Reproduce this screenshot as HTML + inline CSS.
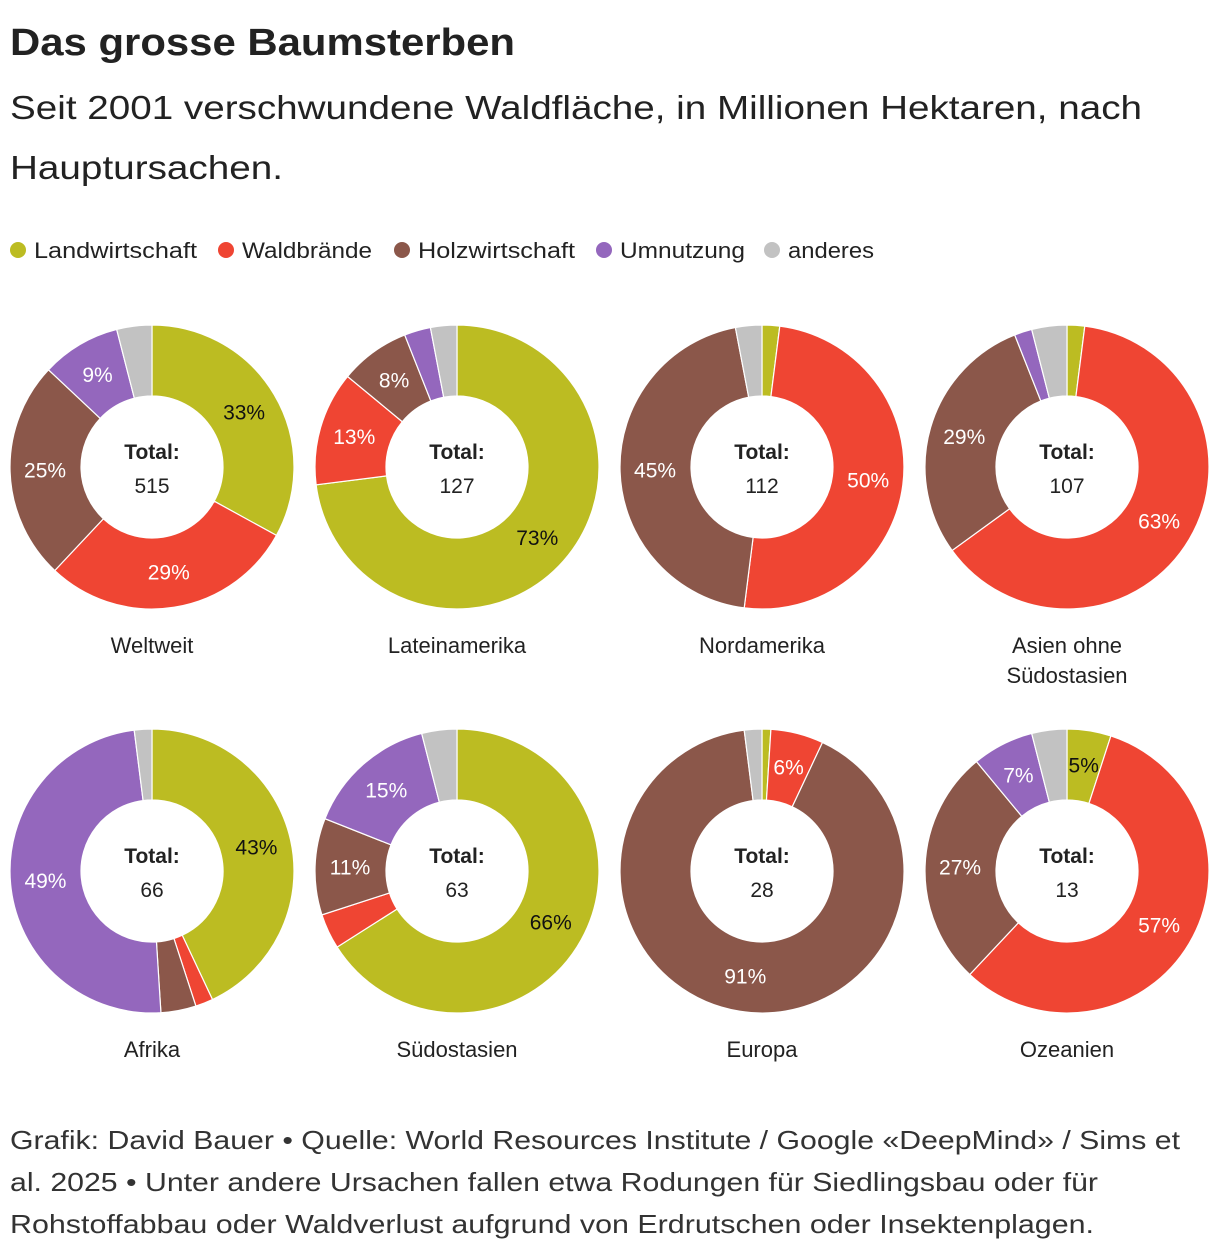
<!DOCTYPE html>
<html><head><meta charset="utf-8">
<style>
body{margin:0;background:#fff;font-family:"Liberation Sans",sans-serif;color:#222;}
svg text{font-family:"Liberation Sans",sans-serif;}
</style></head>
<body>
<svg id="c" width="1220" height="1254" xmlns="http://www.w3.org/2000/svg">
<text x="10" y="55" font-size="38" font-weight="bold" fill="#222" textLength="505" lengthAdjust="spacingAndGlyphs">Das grosse Baumsterben</text>
<text x="10" y="119" font-size="33" fill="#222" textLength="1132" lengthAdjust="spacingAndGlyphs">Seit 2001 verschwundene Waldfläche, in Millionen Hektaren, nach</text>
<text x="10" y="179" font-size="33" fill="#222" textLength="273" lengthAdjust="spacingAndGlyphs">Hauptursachen.</text>
<g id="legend"></g>
<g id="donuts"></g>
<g fill="#333" font-size="26">
<text x="10" y="1149" textLength="1170" lengthAdjust="spacingAndGlyphs">Grafik: David Bauer • Quelle: World Resources Institute / Google «DeepMind» / Sims et</text>
<text x="10" y="1191" textLength="1088" lengthAdjust="spacingAndGlyphs">al. 2025 • Unter andere Ursachen fallen etwa Rodungen für Siedlingsbau oder für</text>
<text x="10" y="1233" textLength="1084" lengthAdjust="spacingAndGlyphs">Rohstoffabbau oder Waldverlust aufgrund von Erdrutschen oder Insektenplagen.</text>
</g>
</svg>
<script>
const categories=["Landwirtschaft","Waldbrände","Holzwirtschaft","Umnutzung","anderes"];
const colors=["#bcbc22","#ef4533","#8b574a","#9467bd","#c2c2c2"];
const regions=["Weltweit","Lateinamerika","Nordamerika","Asien ohne|Südostasien","Afrika","Südostasien","Europa","Ozeanien"];
const totals=[515,127,112,107,66,63,28,13];
const landwirtschaft=[33,73,2,2,43,66,1,5];
const waldbraende=[29,13,50,63,2,4,6,57];
const holzwirtschaft=[25,8,45,29,4,11,91,27];
const umnutzung=[9,3,0,2,49,15,0,7];
const anderes=[4,3,3,4,2,4,2,4];
const series=[landwirtschaft,waldbraende,holzwirtschaft,umnutzung,anderes];
const NS="http://www.w3.org/2000/svg";
function mk(t,a,p){const e=document.createElementNS(NS,t);for(const k in a)e.setAttribute(k,a[k]);p.appendChild(e);return e;}
const lg=document.getElementById('legend');
const lxs=[10,218,394,596,764];
const lws=[163,130,157,125,86];
categories.forEach((c,i)=>{
 const lx=lxs[i];
 const g=mk('g',{},lg);
 
 
 mk('circle',{cx:lx+8,cy:250,r:8,fill:colors[i]},g);
 const t=mk('text',{x:lx+24,y:258,'font-size':22,fill:'#222',textLength:lws[i],lengthAdjust:'spacingAndGlyphs'},g);t.textContent=c;
});
const R=142,r=71;
const cxs=[152,457,762,1067],cys=[467,871];
const dg=document.getElementById('donuts');
function pt(cx,cy,rad,a){return [cx+rad*Math.sin(a),cy-rad*Math.cos(a)];}
regions.forEach((name,ri)=>{
 const cx=cxs[ri%4],cy=cys[Math.floor(ri/4)];
 const g=mk('g',{},dg);
 
 
 const vals=series.map(s=>s[ri]);
 const sum=vals.reduce((a,b)=>a+b,0);
 let a0=0;
 vals.forEach((v,i)=>{
  if(v<=0)return;
  const a1=a0+v/sum*2*Math.PI;
  const [x0,y0]=pt(cx,cy,R,a0),[x1,y1]=pt(cx,cy,R,a1),[x2,y2]=pt(cx,cy,r,a1),[x3,y3]=pt(cx,cy,r,a0);
  const lf=(a1-a0)>Math.PI?1:0;
  const p=mk('path',{d:`M${x0},${y0}A${R},${R} 0 ${lf} 1 ${x1},${y1}L${x2},${y2}A${r},${r} 0 ${lf} 0 ${x3},${y3}Z`,fill:colors[i],stroke:'#fff','stroke-width':1.2},g);
  
  
  if(v>=5){
   const [lx2,ly2]=pt(cx,cy,107,(a0+a1)/2);
   const t=mk('text',{x:lx2,y:ly2+7,'text-anchor':'middle','font-size':21,fill:i==0?'#111':'#fff'},g);
   
   
   t.textContent=v+'%';
  }
  a0=a1;
 });
 const t1=mk('text',{x:cx,y:cy-8,'text-anchor':'middle','font-size':21,'font-weight':'bold',fill:'#222'},g);
 t1.textContent='Total:';
 
 
 const t2=mk('text',{x:cx,y:cy+26,'text-anchor':'middle','font-size':21,fill:'#222'},g);
 t2.textContent=totals[ri];
 
 
 name.split('|').forEach((ln,k)=>{
  const t=mk('text',{x:cx,y:cy+186+k*30,'text-anchor':'middle','font-size':22,fill:'#222'},g);
  t.textContent=ln;
  
  
 });
});
</script>
</body></html>
